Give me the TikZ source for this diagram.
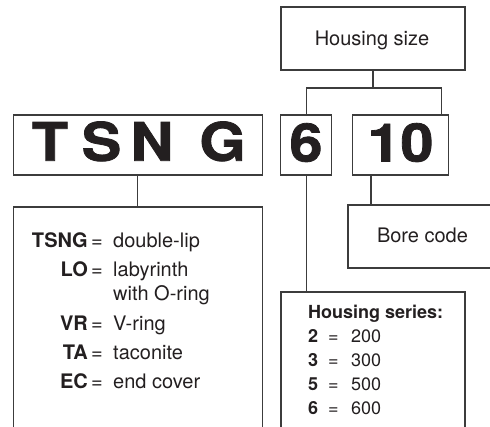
\documentclass[tikz,border=0pt]{standalone}
\usepackage{fontspec}
\setmainfont{TeX Gyre Heros}
\newfontfamily\blackfont[FakeBold=1.5,FakeStretch=1.12]{texgyreheros-bold.otf}
\usetikzlibrary{positioning}
\definecolor{ink}{HTML}{231F20}
\definecolor{rulegray}{HTML}{3C3C3C}
\tikzset{
  codebox/.style={draw=rulegray, line width=1.1pt, inner sep=0pt},
  connector/.style={draw=rulegray, line width=1.1pt},
  codeletter/.style={inner sep=0pt, anchor=base, text=ink, font=\blackfont\fontsize{53}{53}\selectfont},
  labeltext/.style={inner sep=0pt, text=ink, font=\fontsize{20}{24}\selectfont},
  listtext/.style={inner sep=0pt, text=ink, anchor=base west, font=\fontsize{18}{22}\selectfont},
}

\begin{document}
\begin{tikzpicture}[x=1pt, y=-1pt]
    \useasboundingbox (0,0) rectangle (490,427);

    % designation boxes
    \node[codebox, minimum width=249pt, minimum height=60pt] (tsng) at (137.8,145) {};
    \node[codebox, minimum width=51pt, minimum height=60pt] (six) at (306.2,145) {};
    \node[codebox, minimum width=95.6pt, minimum height=60pt] (ten) at (400.5,145) {};
    \node[codebox, minimum width=184pt, minimum height=63pt] (size) at (373,38.5) {};
    \node[labeltext, anchor=base] (size-label) at (372,46) {Housing size};

    \foreach \ch/\x [count=\i] in {T/50, S/101.5, N/152, G/222.5}
        \node[codeletter] (letter-\i) at (\x,160.7) {\ch};
    \node[codeletter] (digit-six) at (306,161.5) {6};
    \node[codeletter] (digit-ten) at (400.5,161.5) {10};

    % housing size fork
    \coordinate (fork) at ([yshift=-17.5pt]size.south);
    \draw[connector] (size.south) -- (fork);
    \draw[connector] (six.north) |- (fork) -| ([xshift=-7pt]ten.north east);

    % seal variants
    \coordinate (codes-top) at (tsng.south |- 0,207);
    \draw[connector] (13.3,427) |- (262.3,207) -- (262.3,427);
    \draw[connector] (tsng.south) -- (codes-top);

    \foreach \code/\desc/\y [count=\i] in {TSNG/double-lip/248, LO/labyrinth/277, VR/V-ring/330.5, TA/taconite/360, EC/end cover/389} {
        \node[labeltext, anchor=base east] (code-\i) at (88,\y) {\textbf{\code}};
        \node[labeltext, anchor=base west] (eq-\i) at (91,\y) {=};
        \node[labeltext, anchor=base west] (desc-\i) at (113,\y) {\desc};
    }
    \node[labeltext, anchor=base west] (desc-extra) at (113,300.5) {with O-ring};

    % housing series
    \coordinate (series-top) at (six.south |- 0,292);
    \draw[connector] (281,427) |- (465,292) -- (465,427);
    \draw[connector] (six.south) -- (series-top);

    \node[listtext] (series-head) at (308,319) {\textbf{Housing series:}};
    \foreach \n/\y [count=\i] in {2/343, 3/367, 5/391, 6/415} {
        \node[listtext] (num-\i) at (308,\y) {\textbf{\n}};
        \node[listtext] (eqs-\i) at (328,\y) {=};
        \node[listtext] (val-\i) at (351,\y) {\n00};
    }

    % bore code
    \coordinate (bore-top) at (371,205);
    \draw[connector] (491,205) -| (348,268) -- (491,268);
    \draw[connector] (bore-top |- ten.south) -- (bore-top);
    \node[labeltext, anchor=base] (bore-label) at (422.5,243) {Bore code};

\end{tikzpicture}
\end{document}
